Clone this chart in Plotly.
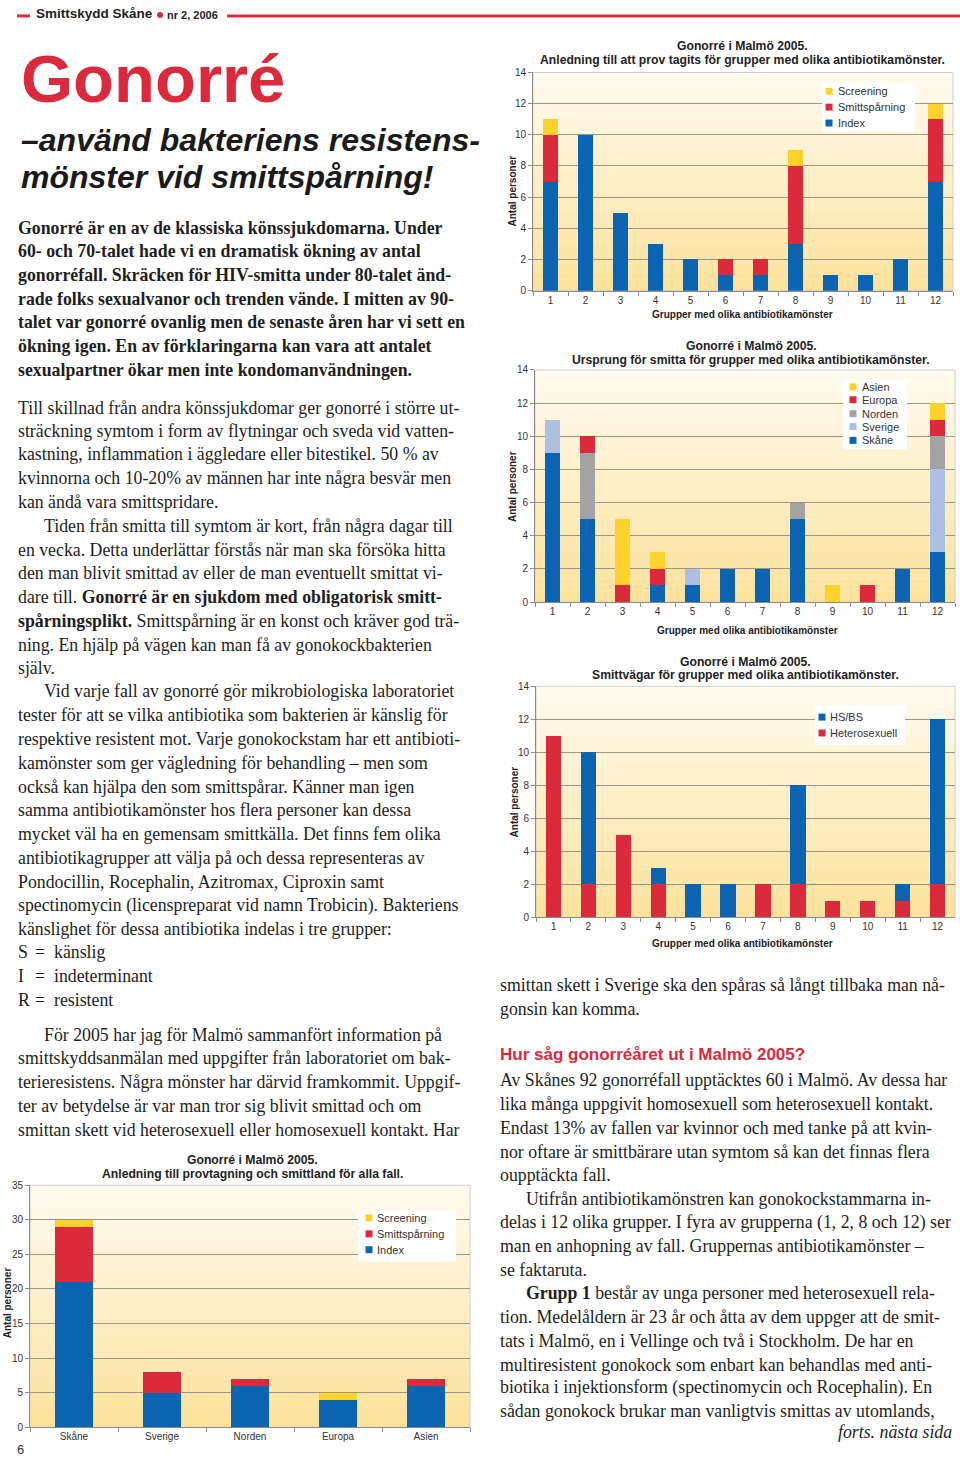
import plotly.graph_objects as go

# ---------------- data ----------------
groups = [str(i) for i in range(1, 13)]

c1_index = [7, 10, 5, 3, 2, 1, 1, 3, 1, 1, 2, 7]
c1_smitt = [3, 0, 0, 0, 0, 1, 1, 5, 0, 0, 0, 4]
c1_screen = [1, 0, 0, 0, 0, 0, 0, 1, 0, 0, 0, 1]

c2_skane = [9, 5, 0, 1, 1, 2, 2, 5, 0, 0, 2, 3]
c2_sverige = [2, 0, 0, 0, 1, 0, 0, 0, 0, 0, 0, 5]
c2_norden = [0, 4, 0, 0, 0, 0, 0, 1, 0, 0, 0, 2]
c2_europa = [0, 1, 1, 1, 0, 0, 0, 0, 0, 1, 0, 1]
c2_asien = [0, 0, 4, 1, 0, 0, 0, 0, 1, 0, 0, 1]

c3_hetero = [11, 2, 5, 2, 0, 0, 2, 2, 1, 1, 1, 2]
c3_hsbs = [0, 8, 0, 1, 2, 2, 0, 6, 0, 0, 1, 10]

regions = ["Skåne", "Sverige", "Norden", "Europa", "Asien"]
c4_index = [21, 5, 6, 4, 6]
c4_smitt = [8, 3, 1, 0, 1]
c4_screen = [1, 0, 0, 1, 0]

# ---------------- styles ----------------
W, H = 960, 1464
SANS = "Liberation Sans"
SERIF = "Liberation Serif"
BLUE = "#0a64b2"
RED = "#db2a3b"
YELLOW = "#fed22c"
GRAY = "#a3a3a3"
LBLUE = "#aebfe4"
TITLE_RED = "#d92a3e"
TXT = "#1e1e1e"
BODY = 17.8


def px(x):
    return x / W


def py(y):
    return 1 - y / H


fig = go.Figure()


def bar(x, y, name, color, xa, ya):
    fig.add_trace(go.Bar(x=x, y=y, name=name, marker=dict(color=color, line=dict(width=0)),
                         xaxis=xa, yaxis=ya, showlegend=False, hoverinfo="x+y+name"))


# chart 1
bar(groups, c1_index, "Index", BLUE, "x", "y")
bar(groups, c1_smitt, "Smittspårning", RED, "x", "y")
bar(groups, c1_screen, "Screening", YELLOW, "x", "y")
# chart 2
bar(groups, c2_skane, "Skåne", BLUE, "x2", "y2")
bar(groups, c2_sverige, "Sverige", LBLUE, "x2", "y2")
bar(groups, c2_norden, "Norden", GRAY, "x2", "y2")
bar(groups, c2_europa, "Europa", RED, "x2", "y2")
bar(groups, c2_asien, "Asien", YELLOW, "x2", "y2")
# chart 3
bar(groups, c3_hetero, "Heterosexuell", RED, "x3", "y3")
bar(groups, c3_hsbs, "HS/BS", BLUE, "x3", "y3")
# chart 4
bar(regions, c4_index, "Index", BLUE, "x4", "y4")
bar(regions, c4_smitt, "Smittspårning", RED, "x4", "y4")
bar(regions, c4_screen, "Screening", YELLOW, "x4", "y4")

# plot areas (pixel boxes: left, right, top, bottom)
boxes = {
    "1": (533, 953, 67, 287, 14, 2),
    "2": (535, 955, 367, 601, 14, 2),
    "3": (536, 955, 686, 919, 14, 2),
    "4": (30, 470, 1189, 1433, 35, 5),
}

layout_axes = {}
shapes = []
N = 40
top_col = (255, 251, 240)
bot_col = (253, 226, 156)
for k, (l, r, t, b, ymax, dt) in boxes.items():
    sfx = "" if k == "1" else k
    layout_axes["xaxis" + sfx] = dict(
        domain=[px(l), px(r)], anchor="y" + sfx, type="category",
        showline=True, linecolor="#8c8c8c", linewidth=1,
        ticks="outside", ticklen=4, tickcolor="#8c8c8c", tickson="boundaries",
        tickfont=dict(family=SANS, size=10, color="#333"), showgrid=False, fixedrange=True)
    layout_axes["yaxis" + sfx] = dict(
        domain=[py(b), py(t)], anchor="x" + sfx, range=[0, ymax], dtick=dt,
        showline=True, linecolor="#8c8c8c", linewidth=1,
        ticks="outside", ticklen=4, tickcolor="#8c8c8c",
        showgrid=True, gridcolor="#9d9686", gridwidth=1, zeroline=False,
        tickfont=dict(family=SANS, size=10, color="#333"), fixedrange=True)
    for i in range(N):
        f = i / (N - 1)
        c = tuple(round(top_col[j] + (bot_col[j] - top_col[j]) * f) for j in range(3))
        shapes.append(dict(type="rect", xref="x%s domain" % sfx, yref="y%s domain" % sfx,
                           x0=0, x1=1, y0=1 - (i + 1) / N, y1=1 - i / N + 0.001,
                           fillcolor="rgb(%d,%d,%d)" % c, line=dict(width=0), layer="below"))
    shapes.append(dict(type="rect", xref="x%s domain" % sfx, yref="y%s domain" % sfx,
                       x0=0, x1=1, y0=0, y1=1, line=dict(color="#cfcfcf", width=1),
                       fillcolor="rgba(0,0,0,0)", layer="below"))

# header shapes
shapes.append(dict(type="line", xref="paper", yref="paper", x0=px(17), x1=px(30), y0=py(10), y1=py(10),
                   line=dict(color=TITLE_RED, width=3)))
shapes.append(dict(type="line", xref="paper", yref="paper", x0=px(227), x1=px(960), y0=py(10), y1=py(10),
                   line=dict(color=TITLE_RED, width=3)))
shapes.append(dict(type="circle", xref="paper", yref="paper", x0=px(157), x1=px(163), y0=py(12), y1=py(6),
                   fillcolor=TITLE_RED, line=dict(width=0)))

ann = []


def txt(x, y, s, size=BODY, family=SERIF, color=TXT, anchor="left", bold=False, italic=False, angle=0):
    t = s
    if bold:
        t = "<b>" + t + "</b>"
    if italic:
        t = "<i>" + t + "</i>"
    ann.append(dict(x=px(x), y=py(y), xref="paper", yref="paper", text=t, showarrow=False,
                    xanchor=anchor, yanchor="middle", textangle=angle, borderpad=0,
                    font=dict(family=family, size=size, color=color)))


def legend_box(x0, x1, y0, y1, items, sq_x, txt_x):
    shapes.append(dict(type="rect", xref="paper", yref="paper", x0=px(x0), x1=px(x1), y0=py(y1), y1=py(y0),
                       fillcolor="white", line=dict(width=0), layer="above"))
    for name, color, yy in items:
        shapes.append(dict(type="rect", xref="paper", yref="paper", x0=px(sq_x - 3.5), x1=px(sq_x + 3.5),
                           y0=py(yy + 3.5), y1=py(yy - 3.5), fillcolor=color, line=dict(width=0), layer="above"))
        txt(txt_x, yy, name, size=11, family=SANS, color="#333")


# header
txt(35, 8, "Smittskydd Skåne", size=13.5, family=SANS, color="#222", bold=True)
txt(166, 9, "nr 2, 2006", size=11, family=SANS, color="#222", bold=True)
txt(20, 73, "Gonorré", size=67, family=SANS, color=TITLE_RED, bold=True)
txt(20, 135, "–använd bakteriens resistens-", size=32, family=SANS, color="#1a1a1a", bold=True, italic=True)
txt(20, 172, "mönster vid smittspårning!", size=32, family=SANS, color="#1a1a1a", bold=True, italic=True)

# left column bold lead
lead = [
    "Gonorré är en av de klassiska könssjukdomarna. Under",
    "60- och 70-talet hade vi en dramatisk ökning av antal",
    "gonorréfall. Skräcken för HIV-smitta under 80-talet änd-",
    "rade folks sexualvanor och trenden vände. I mitten av 90-",
    "talet var gonorré ovanlig men de senaste åren har vi sett en",
    "ökning igen. En av förklaringarna kan vara att antalet",
    "sexualpartner ökar men inte kondomanvändningen.",
]
lead_y = [224, 247, 271, 295, 319, 343, 367]
for s, y in zip(lead, lead_y):
    txt(17, y, s, size=17.8, bold=True)

IND = 26
left_lines = [
    (0, 405, "Till skillnad från andra könssjukdomar ger gonorré i större ut-"),
    (0, 429, "sträckning symtom i form av flytningar och sveda vid vatten-"),
    (0, 452, "kastning, inflammation i äggledare eller bitestikel. 50 % av"),
    (0, 476, "kvinnorna och 10-20% av männen har inte några besvär men"),
    (0, 500, "kan ändå vara smittspridare."),
    (IND, 524, "Tiden från smitta till symtom är kort, från några dagar till"),
    (0, 548, "en vecka. Detta underlättar förstås när man ska försöka hitta"),
    (0, 572, "den man blivit smittad av eller de man eventuellt smittat vi-"),
    (0, 596, "dare till. <b>Gonorré är en sjukdom med obligatorisk smitt-</b>"),
    (0, 620, "<b>spårningsplikt.</b> Smittspårning är en konst och kräver god trä-"),
    (0, 644, "ning. En hjälp på vägen kan man få av gonokockbakterien"),
    (0, 667, "själv."),
    (IND, 691, "Vid varje fall av gonorré gör mikrobiologiska laboratoriet"),
    (0, 715, "tester för att se vilka antibiotika som bakterien är känslig för"),
    (0, 739, "respektive resistent mot. Varje gonokockstam har ett antibioti-"),
    (0, 763, "kamönster som ger vägledning för behandling – men som"),
    (0, 787, "också kan hjälpa den som smittspårar. Känner man igen"),
    (0, 811, "samma antibiotikamönster hos flera personer kan dessa"),
    (0, 835, "mycket väl ha en gemensam smittkälla. Det finns fem olika"),
    (0, 859, "antibiotikagrupper att välja på och dessa representeras av"),
    (0, 883, "Pondocillin, Rocephalin, Azitromax, Ciproxin samt"),
    (0, 907, "spectinomycin (licenspreparat vid namn Trobicin). Bakteriens"),
    (0, 931, "känslighet för dessa antibiotika indelas i tre grupper:"),
    (IND, 1037, "För 2005 har jag för Malmö sammanfört information på"),
    (0, 1061, "smittskyddsanmälan med uppgifter från laboratoriet om bak-"),
    (0, 1085, "terieresistens. Några mönster har därvid framkommit. Uppgif-"),
    (0, 1109, "ter av betydelse är var man tror sig blivit smittad och om"),
    (0, 1133, "smittan skett vid heterosexuell eller homosexuell kontakt. Har"),
]
for ind, y, s in left_lines:
    txt(17 + ind, y, s)

for y, k, v in [(954, "S", "känslig"), (978, "I", "indeterminant"), (1002, "R", "resistent")]:
    txt(17, y, k)
    txt(34, y, "=")
    txt(53, y, v)

right_lines = [
    (0, 987, "smittan skett i Sverige ska den spåras så långt tillbaka man nå-"),
    (0, 1011, "gonsin kan komma."),
    (0, 1083, "Av Skånes 92 gonorréfall upptäcktes 60 i Malmö. Av dessa har"),
    (0, 1107, "lika många uppgivit homosexuell som heterosexuell kontakt."),
    (0, 1131, "Endast 13% av fallen var kvinnor och med tanke på att kvin-"),
    (0, 1155, "nor oftare är smittbärare utan symtom så kan det finnas flera"),
    (0, 1179, "oupptäckta fall."),
    (IND, 1203, "Utifrån antibiotikamönstren kan gonokockstammarna in-"),
    (0, 1227, "delas i 12 olika grupper. I fyra av grupperna (1, 2, 8 och 12) ser"),
    (0, 1250, "man en anhopning av fall. Gruppernas antibiotikamönster –"),
    (0, 1274, "se faktaruta."),
    (IND, 1298, "<b>Grupp 1</b> består av unga personer med heterosexuell rela-"),
    (0, 1322, "tion. Medelåldern är 23 år och åtta av dem uppger att de smit-"),
    (0, 1346, "tats i Malmö, en i Vellinge och två i Stockholm. De har en"),
    (0, 1370, "multiresistent gonokock som enbart kan behandlas med anti-"),
    (0, 1393, "biotika i injektionsform (spectinomycin och Rocephalin). En"),
    (0, 1417, "sådan gonokock brukar man vanligtvis smittas av utomlands,"),
]
for ind, y, s in right_lines:
    txt(499 + ind, y, s)
txt(499, 1057, "Hur såg gonorréåret ut i Malmö 2005?", size=17, family=SANS, color=TITLE_RED, bold=True)
txt(953, 1438, "forts. nästa sida", anchor="right", italic=True)
txt(16, 1455, "6", size=13, family=SANS, color="#333")

# chart titles & axis titles
CT = 12.2


def ctitle(x, y, l1, l2):
    txt(x, y, l1, size=CT, family=SANS, color="#222", anchor="center", bold=True)
    txt(x, y + 14, l2, size=CT, family=SANS, color="#222", anchor="center", bold=True)


ctitle(742, 40, "Gonorré i Malmö 2005.",
       "Anledning till att prov tagits för grupper med olika antibiotikamönster.")
ctitle(751, 343, "Gonorré i Malmö 2005.",
       "Ursprung för smitta för grupper med olika antibiotikamönster.")
ctitle(745, 661, "Gonorré i Malmö 2005.",
       "Smittvägar för grupper med olika antibiotikamönster.")
ctitle(252, 1164, "Gonorré i Malmö 2005.",
       "Anledning till provtagning och smittland för alla fall.")

XT = "Grupper med olika antibiotikamönster"
txt(742, 311, XT, size=10, family=SANS, color="#222", anchor="center", bold=True)
txt(747, 630, XT, size=10, family=SANS, color="#222", anchor="center", bold=True)
txt(742, 945, XT, size=10, family=SANS, color="#222", anchor="center", bold=True)
for x, y in [(512, 187), (512, 485), (514, 803), (7, 1308)]:
    txt(x, y, "Antal personer", size=10, family=SANS, color="#222", anchor="center", bold=True, angle=-90)

# legends
legend_box(822, 915, 78, 127, [("Screening", YELLOW, 86), ("Smittspårning", RED, 102), ("Index", BLUE, 118)],
           829, 837)
legend_box(843, 907, 377, 447, [("Asien", YELLOW, 384), ("Europa", RED, 397), ("Norden", GRAY, 411),
                                ("Sverige", LBLUE, 424), ("Skåne", BLUE, 438)], 853, 861)
legend_box(815, 905, 705, 745, [("HS/BS", BLUE, 717), ("Heterosexuell", RED, 733)], 822, 829)
legend_box(358, 456, 1214, 1266, [("Screening", YELLOW, 1222), ("Smittspårning", RED, 1238),
                                  ("Index", BLUE, 1254)], 369, 376)

fig.update_layout(
    width=W, height=H, margin=dict(l=0, r=0, t=0, b=0),
    paper_bgcolor="white", plot_bgcolor="rgba(0,0,0,0)",
    barmode="stack", bargap=0.56, showlegend=False,
    shapes=shapes, annotations=ann,
    **layout_axes,
)

fig.write_html("out.html", config={"displayModeBar": False},
               post_script="document.body.style.margin='0';document.body.style.overflow='hidden';")
